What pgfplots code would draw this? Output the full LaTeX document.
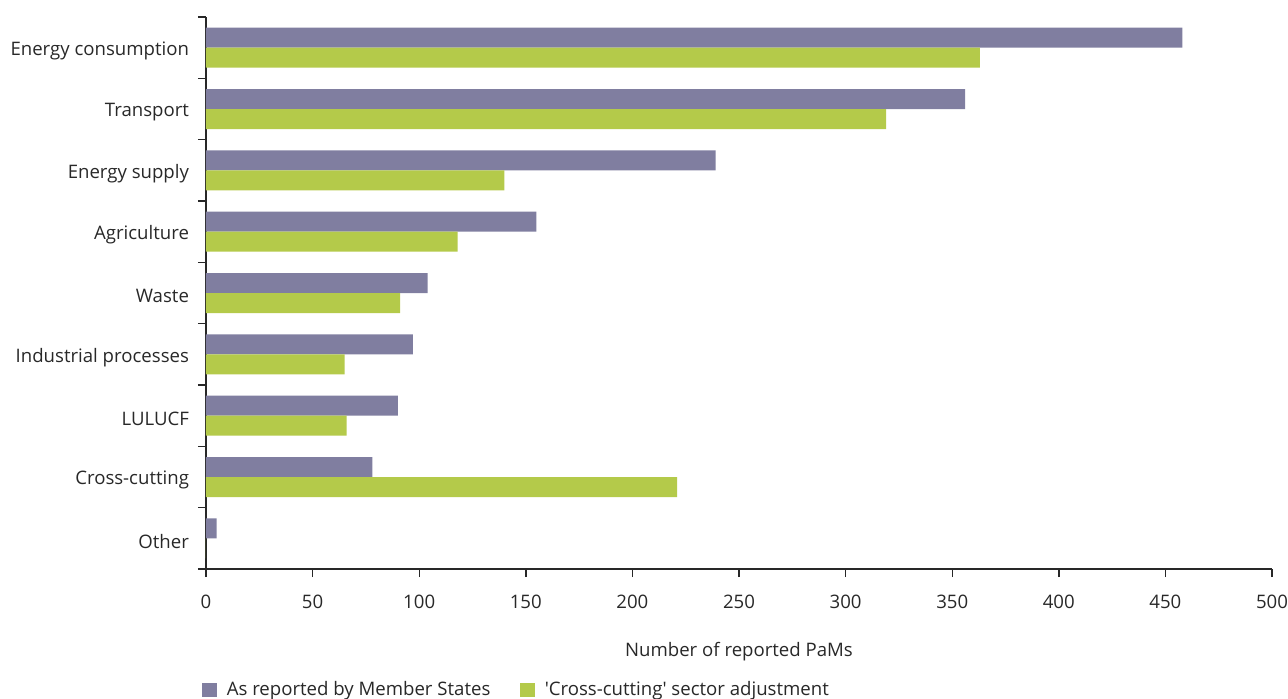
\documentclass[border=0pt]{standalone}
\usepackage{pgfplots}
\pgfplotsset{compat=1.18}
\usepackage{fontspec}
\setmainfont{Open Sans}
\definecolor{msblue}{RGB}{128,126,160}
\definecolor{ccgreen}{RGB}{180,202,74}
\definecolor{txt}{RGB}{40,40,40}
\begin{document}
\begin{tikzpicture}
\useasboundingbox (-103pt,-64.5pt) rectangle (541pt,284.5pt);
\begin{axis}[
	at={(0,0)}, anchor=south west,
	scale only axis,
	width=533pt, height=276pt,
	xbar,
	bar width=10pt,
	xmin=0, xmax=500,
	ymin=-0.5, ymax=8.5,
	axis x line*=bottom,
	axis y line*=left,
	axis line style={line width=0.7pt, color=txt},
	xtick={0,50,...,500},
	ytick={0,...,8},
	yticklabels={Other,Cross-cutting,LULUCF,Industrial processes,Waste,Agriculture,Energy supply,Transport,Energy consumption},
	minor ytick={-0.5,0.5,...,8.5},
	major tick length=4pt,
	minor tick length=4pt,
	tick align=outside,
	ytick style={draw=none},
	minor y tick style={draw=txt, line width=0.7pt},
	xtick style={draw=txt, line width=0.7pt},
	tick label style={font=\fontsize{9.3}{10}\selectfont, color=txt},
	/pgf/number format/assume math mode=true,
	xticklabel style={yshift=-5.5pt},
	yticklabel style={xshift=-1pt, yshift=-1.5pt},
	xlabel={Number of reported PaMs},
	xlabel style={font=\fontsize{9.3}{10}\selectfont, color=txt, yshift=-10pt},
	legend columns=2,
	legend style={at={(0,0)}, anchor=west, xshift=-5pt, yshift=-60.5pt, draw=none, font=\fontsize{9.3}{10}\selectfont, text=txt,
		/tikz/every odd column/.append style={column sep=3pt},
		/tikz/every even column/.append style={column sep=13pt}},
	legend image code/.code={\fill[#1] (0pt,-3.6pt) rectangle (7.2pt,3.6pt);},
]
\addplot[fill=msblue, draw=none, bar shift=5pt] coordinates {
	(5,0) (78,1) (90,2) (97,3) (104,4) (155,5) (239,6) (356,7) (458,8)
};
\addplot[fill=ccgreen, draw=none, bar shift=-5pt] coordinates {
	(0,0) (221,1) (66,2) (65,3) (91,4) (118,5) (140,6) (319,7) (363,8)
};
\legend{As reported by Member States,\textquotesingle Cross-cutting\textquotesingle{} sector adjustment}
\end{axis}
\end{tikzpicture}
\end{document}
